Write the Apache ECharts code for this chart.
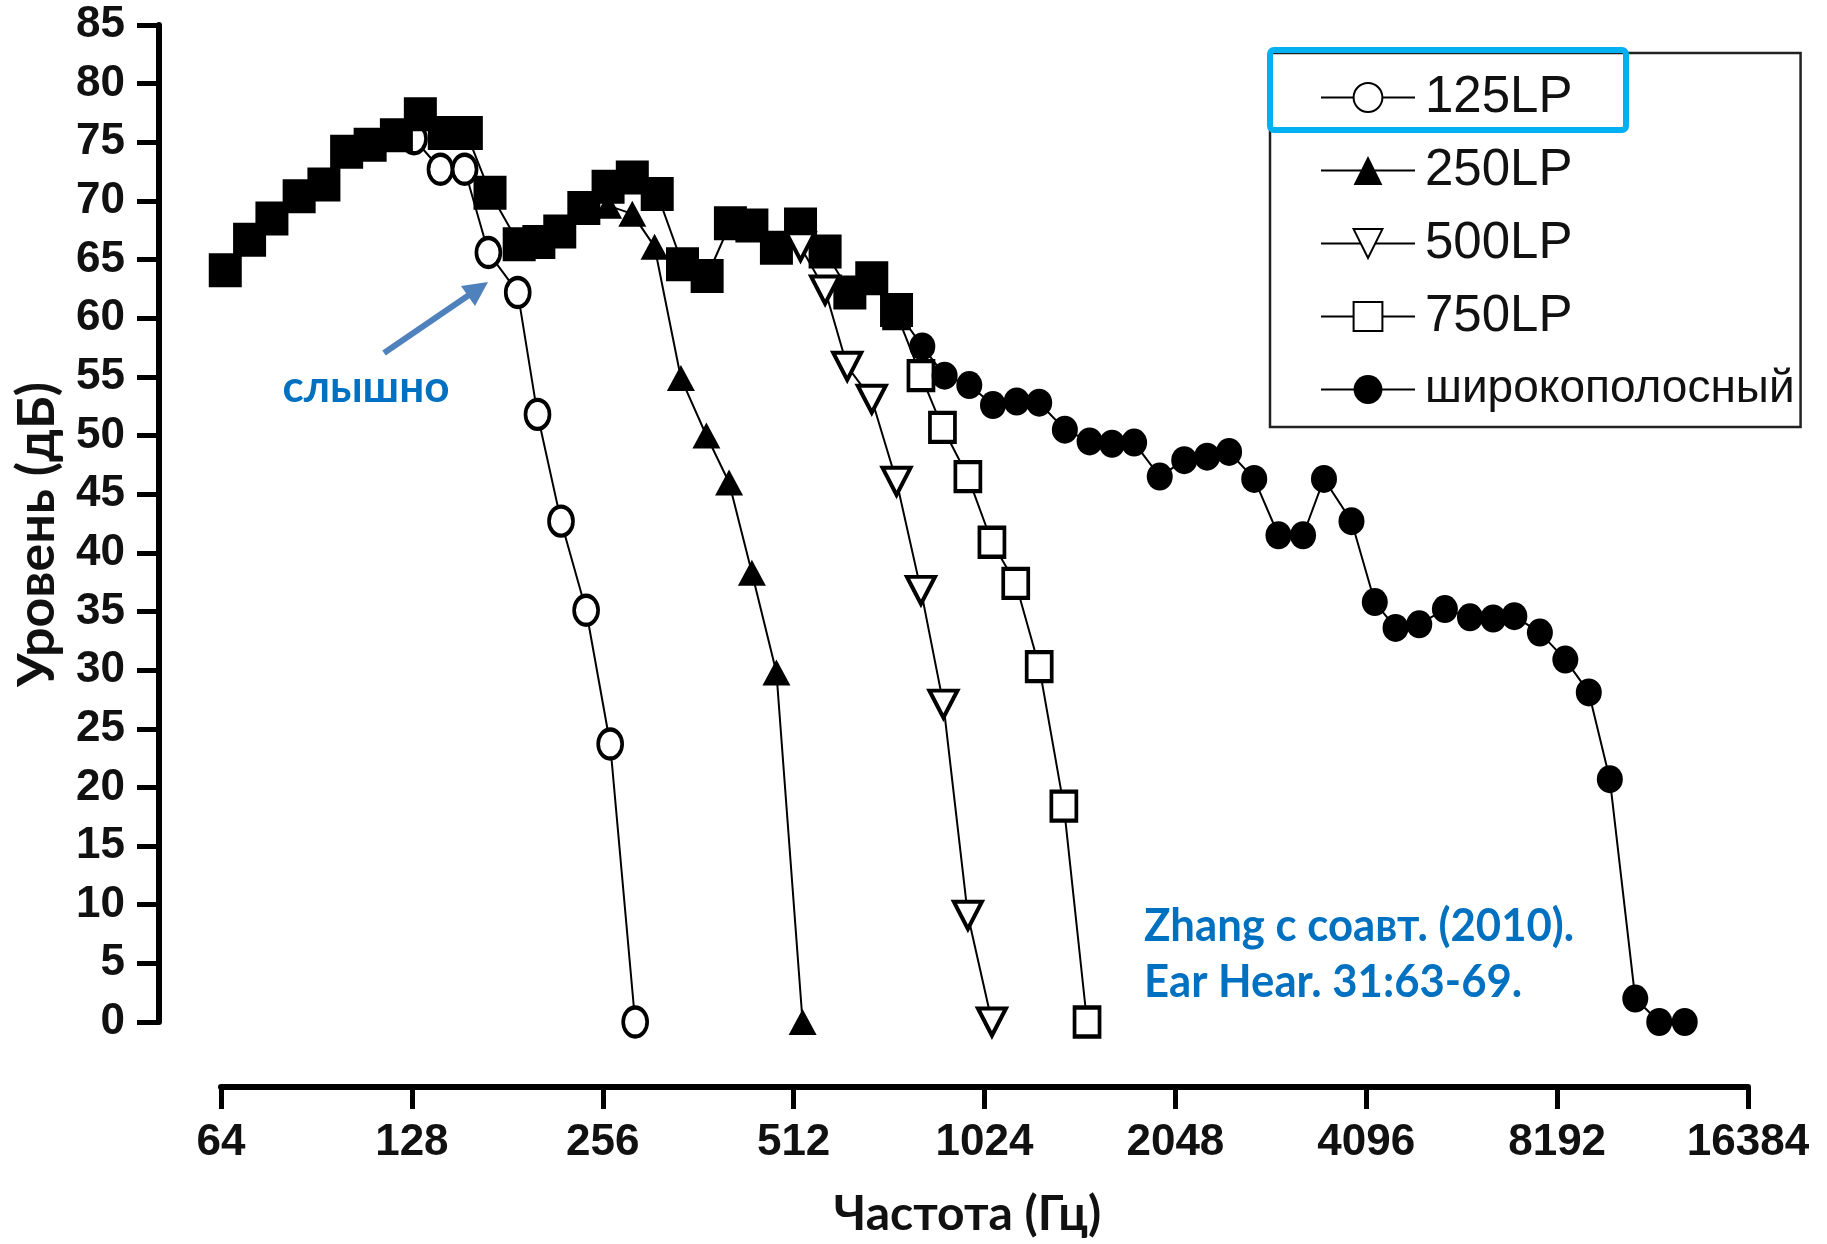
<!DOCTYPE html>
<html><head><meta charset="utf-8">
<script src="https://cdn.jsdelivr.net/npm/echarts@6/dist/echarts.min.js"></script>
<style>html,body{margin:0;padding:0;background:#fff}#c{width:1827px;height:1244px}</style>
</head><body><div id="c"></div>
<script>
// ---------------- data ----------------
const seriesNames = ['125LP', '250LP', '500LP', '750LP', 'широкополосный'];
const xTickValues = [64, 128, 256, 512, 1024, 2048, 4096, 8192, 16384];

const lp125Freq  = [129, 142, 155, 169, 188, 202, 220, 241, 263, 288];
const lp125Level = [75.3, 72.7, 72.7, 65.6, 62.2, 51.8, 42.7, 35.1, 23.7, 0];

const lp250Freq  = [261, 285, 309, 340, 373, 405, 440, 481, 529];
const lp250Level = [69.6, 68.9, 66.1, 54.9, 50.0, 46.0, 38.3, 29.8, 0];

const lp500Freq  = [525, 574, 622, 680, 744, 813, 882, 964, 1052];
const lp500Level = [66.1, 62.4, 55.9, 53.1, 46.1, 36.8, 27.1, 9.1, 0];

const lp750Freq  = [744, 813, 879, 964, 1052, 1147, 1249, 1366, 1486];
const lp750Level = [60.4, 55.1, 50.7, 46.5, 40.9, 37.4, 30.3, 18.4, 0];

const broadbandFreq = [
  65, 71, 77, 85, 93, 101, 110, 121, 132, 144, 156, 170, 189, 203, 219, 239, 261, 285, 312, 342,
  374, 407, 440, 481, 525, 574, 628, 680, 744,
  817, 886, 969, 1056, 1151, 1249, 1371, 1500, 1627, 1763, 1935, 2115, 2298, 2489, 2727, 2978,
  3256, 3513, 3882, 4225, 4556, 4965, 5450, 5970, 6495, 7013, 7695, 8440, 9190, 9920, 10880,
  11870, 13020
];
const broadbandLevel = [
  64.1, 66.7, 68.5, 70.4, 71.4, 74.2, 74.8, 75.6, 77.4, 75.8, 75.8, 70.7, 66.3, 66.5, 67.4, 69.4, 71.2, 72.0, 70.6, 64.6,
  63.6, 68.1, 67.9, 66.0, 68.0, 65.7, 62.2, 63.4, 60.7,
  57.6, 55.1, 54.3, 52.6, 52.9, 52.8, 50.5, 49.5, 49.3, 49.4, 46.5, 47.9, 48.2, 48.6, 46.3, 41.5,
  41.5, 46.3, 42.7, 35.8, 33.6, 33.9, 35.2, 34.5, 34.4, 34.6, 33.2, 30.9, 28.1, 20.7, 2.0,
  0, 0
];
// broadband points below this frequency are drawn with filled squares in the reference
const squareMarkerBelowHz = 780;

// ---------------- chart ----------------
const tickFont = "'Liberation Sans', Arial, sans-serif";
const titleFont = "Lato, 'Open Sans', sans-serif";
const pairs = (f, v) => f.map((x, i) => [x, v[i]]);

const openStyle = { color: '#fff', borderColor: '#000', borderWidth: 4 };
const lineStyle = { color: '#000', width: 2 };

const broadbandData = broadbandFreq.map((f, i) => {
  const item = { value: [f, broadbandLevel[i]] };
  if (f < squareMarkerBelowHz) { item.symbol = 'rect'; item.symbolSize = [33, 34]; }
  return item;
});

const chart = echarts.init(document.getElementById('c'), null, { renderer: 'canvas' });
chart.setOption({
  animation: false,
  backgroundColor: '#fff',
  grid: { left: 221, top: 25, width: 1527, height: 1002, containLabel: false },
  xAxis: {
    type: 'log', logBase: 2, min: 64, max: 16384, interval: 1,
    offset: 65,
    name: 'Частота (Гц)', nameLocation: 'middle', nameGap: 104,
    nameTextStyle: { fontFamily: titleFont, fontWeight: 'bold', fontSize: 48, color: '#111',
      padding: [0, 34, 0, 0], textShadowColor: 'rgba(214,140,40,0.55)', textShadowOffsetY: 1.5 },
    axisLine: { show: true, onZero: false, lineStyle: { color: '#000', width: 6 } },
    axisTick: { show: true, length: 22, lineStyle: { color: '#000', width: 5 } },
    axisLabel: { margin: 34, fontFamily: tickFont, fontWeight: 'bold', fontSize: 44, color: '#111',
      showMinLabel: true, showMaxLabel: true,
      formatter: v => String(xTickValues.find(t => Math.abs(t - v) < 0.5) || Math.round(v)) },
    splitLine: { show: false }
  },
  yAxis: {
    type: 'value', min: 0, max: 85, interval: 5,
    offset: 62,
    name: 'Уровень (дБ)', nameLocation: 'middle', nameGap: 96, nameRotate: 90,
    nameTextStyle: { fontFamily: titleFont, fontWeight: 'bold', fontSize: 52, color: '#111',
      padding: [0, 22, 0, 0], textShadowColor: 'rgba(214,140,40,0.55)', textShadowOffsetX: -1.5 },
    axisLine: { show: true, onZero: false, lineStyle: { color: '#000', width: 6 } },
    axisTick: { show: true, length: 22, lineStyle: { color: '#000', width: 5 } },
    axisLabel: { margin: 34, fontFamily: tickFont, fontWeight: 'bold', fontSize: 44, color: '#111' },
    splitLine: { show: false }
  },
  legend: {
    data: seriesNames, orient: 'vertical', left: 1270, top: 53,
    padding: [19, 6, 12, 50], itemGap: 22, itemWidth: 94, itemHeight: 36,
    borderColor: '#222', borderWidth: 2.5, selectedMode: false,
    textStyle: { fontFamily: tickFont, fontSize: 51, lineHeight: 51, color: '#111', padding: [0, 0, 0, 5],
      rich: { n: { fontFamily: tickFont, fontSize: 46, lineHeight: 51, color: '#111' } } },
    formatter: name => name === 'широкополосный' ? '{n|' + name + '}' : name
  },
  series: [
    { name: '125LP', type: 'line', z: 2, symbol: 'circle', symbolSize: [24, 29],
      itemStyle: openStyle, lineStyle, data: pairs(lp125Freq, lp125Level), emphasis: { disabled: true } },
    { name: '750LP', type: 'line', z: 2, symbol: 'rect', symbolSize: [25, 29],
      itemStyle: openStyle, lineStyle, data: pairs(lp750Freq, lp750Level), emphasis: { disabled: true } },
    { name: 'широкополосный', type: 'line', z: 3, symbol: 'circle', symbolSize: [26, 28],
      itemStyle: { color: '#000' }, lineStyle, data: broadbandData, emphasis: { disabled: true } },
    { name: '250LP', type: 'line', z: 4, symbol: 'triangle', symbolSize: [28, 26],
      itemStyle: { color: '#000' }, lineStyle, data: pairs(lp250Freq, lp250Level), emphasis: { disabled: true } },
    { name: '500LP', type: 'line', z: 4, symbol: 'path://M0,0L20,0L10,18Z', symbolSize: [28, 27],
      itemStyle: openStyle, lineStyle, data: pairs(lp500Freq, lp500Level), emphasis: { disabled: true } }
  ],
  graphic: [
    { type: 'rect', z: 100, shape: { x: 1270, y: 50, width: 356, height: 80, r: 4 },
      style: { fill: 'none', stroke: '#00b0f0', lineWidth: 6 } },
    { type: 'line', z: 100, shape: { x1: 384, y1: 353, x2: 469, y2: 295 },
      style: { stroke: '#4f81bd', lineWidth: 6 } },
    { type: 'polygon', z: 100, shape: { points: [[488, 282], [475, 306], [461, 286]] },
      style: { fill: '#4f81bd' } },
    { type: 'text', z: 100, x: 366, y: 388,
      style: { text: 'слышно', fontFamily: titleFont, fontWeight: 'bold', fontSize: 44,
        fill: '#0070c0', align: 'center', verticalAlign: 'middle' } },
    { type: 'text', z: 100, x: 1144, y: 926, scaleX: 0.95,
      style: { text: 'Zhang с соавт. (2010).', fontFamily: titleFont, fontWeight: 'bold', fontSize: 46,
        fill: '#0070c0', align: 'left', verticalAlign: 'middle' } },
    { type: 'text', z: 100, x: 1144, y: 982, scaleX: 0.95,
      style: { text: 'Ear Hear. 31:63-69.', fontFamily: titleFont, fontWeight: 'bold', fontSize: 46,
        fill: '#0070c0', align: 'left', verticalAlign: 'middle' } }
  ]
});
</script></body></html>
